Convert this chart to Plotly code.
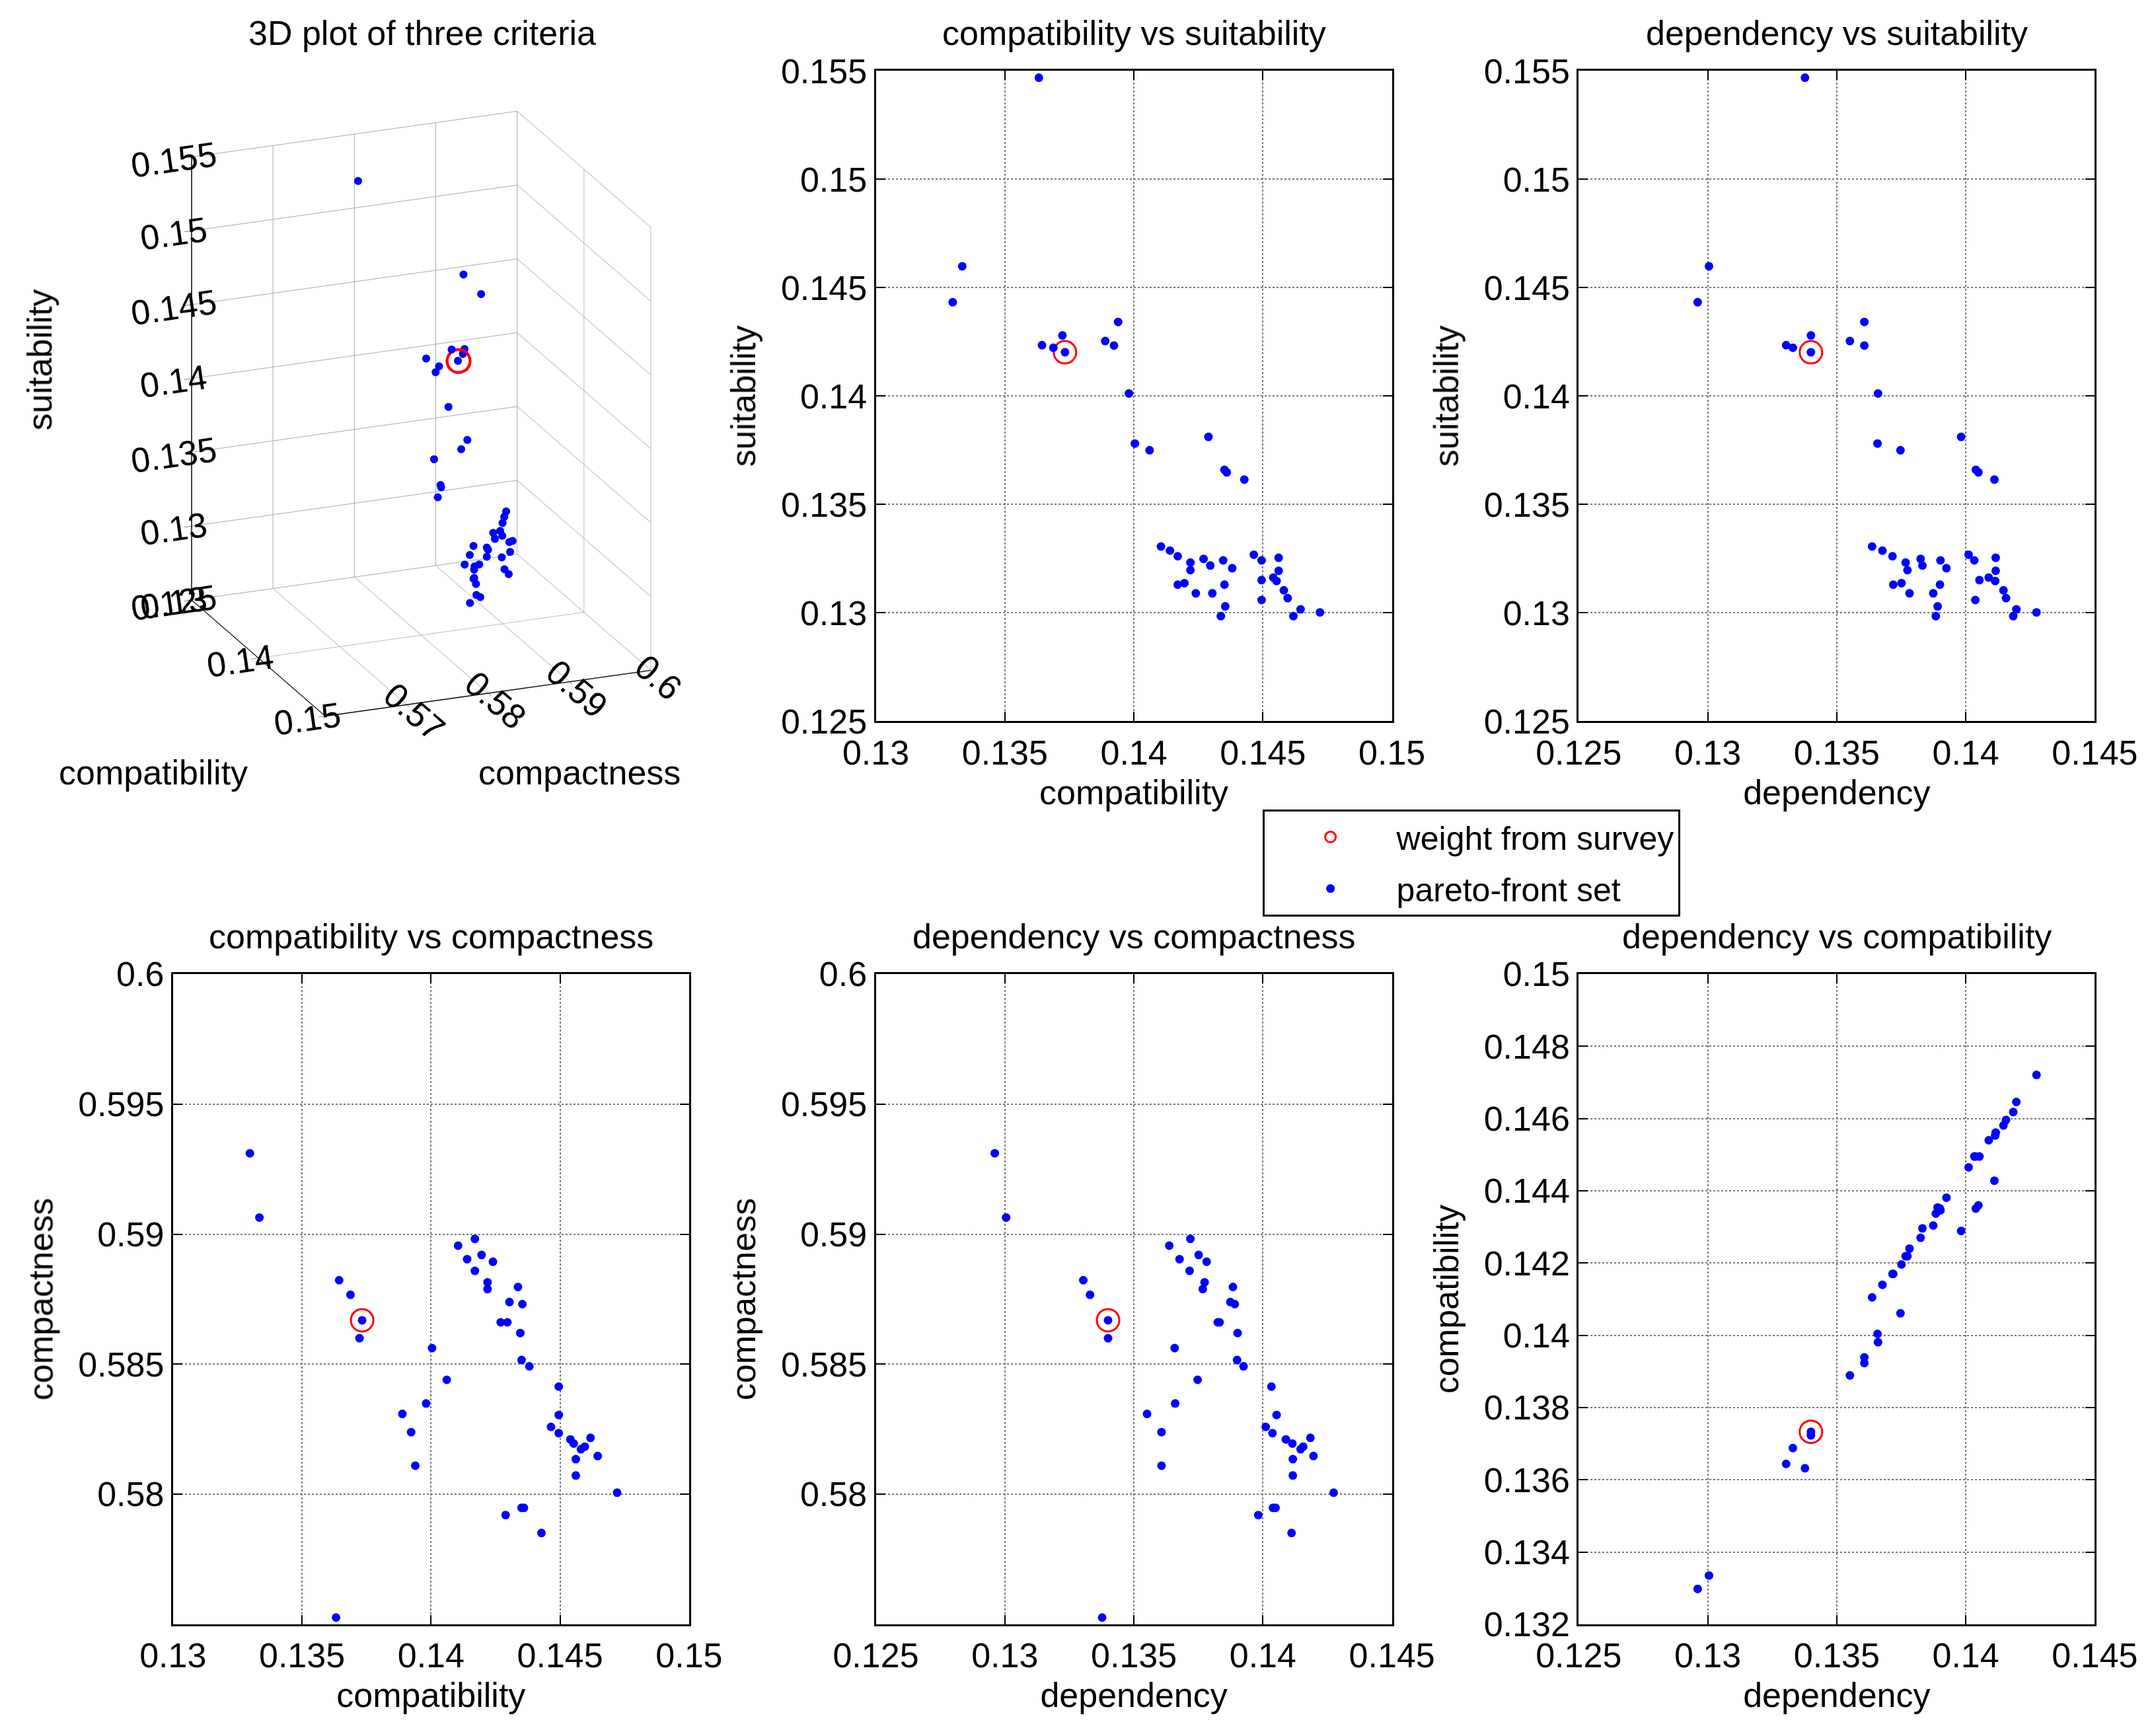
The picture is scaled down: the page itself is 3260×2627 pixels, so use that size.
import plotly.graph_objects as go

# ----------------------------
# data (pareto-front set, 46 points)
# ----------------------------
compatibility = [0.13632, 0.13335, 0.13298, 0.13644, 0.13688, 0.13723, 0.13733, 0.13889, 0.13923, 0.13939,
                 0.13981, 0.14004, 0.14061, 0.14289, 0.14351, 0.14360, 0.14428, 0.14105, 0.14140, 0.14170,
                 0.14219, 0.14219, 0.14270, 0.14296, 0.14346, 0.14381, 0.14170, 0.14196, 0.14240, 0.14304,
                 0.14351, 0.14354, 0.14337, 0.14465, 0.14495, 0.14561, 0.14561, 0.14495, 0.14540, 0.14553,
                 0.14581, 0.14596, 0.14495, 0.14618, 0.14646, 0.14721]
dependency = [0.13377, 0.13005, 0.12961, 0.13304, 0.13330, 0.13400, 0.13400, 0.13551, 0.13607, 0.13607,
              0.13660, 0.13658, 0.13747, 0.13982, 0.14039, 0.14049, 0.14111, 0.13637, 0.13677, 0.13716,
              0.13767, 0.13774, 0.13825, 0.13832, 0.13902, 0.13925, 0.13719, 0.13751, 0.13782, 0.13874,
              0.13900, 0.13891, 0.13884, 0.14011, 0.14033, 0.14116, 0.14116, 0.14053, 0.14089, 0.14114,
              0.14146, 0.14156, 0.14037, 0.14184, 0.14196, 0.14274]
suitability = [0.15469, 0.14599, 0.14433, 0.14235, 0.14223, 0.14280, 0.14202, 0.14254, 0.14233, 0.14342,
               0.14012, 0.13781, 0.13750, 0.13812, 0.13660, 0.13648, 0.13615, 0.13306, 0.13287, 0.13261,
               0.13232, 0.13197, 0.13249, 0.13218, 0.13242, 0.13206, 0.13130, 0.13137, 0.13090, 0.13090,
               0.13130, 0.13030, 0.12985, 0.13268, 0.13242, 0.13254, 0.13194, 0.13151, 0.13163, 0.13147,
               0.13104, 0.13068, 0.13059, 0.12985, 0.13016, 0.13002]
compactness = [0.57526, 0.59064, 0.59311, 0.58823, 0.58767, 0.58600, 0.58669, 0.58309, 0.58239, 0.58110,
               0.58349, 0.58562, 0.58440, 0.57920, 0.57948, 0.57948, 0.57851, 0.58956, 0.58904, 0.58859,
               0.58789, 0.58815, 0.58661, 0.58661, 0.58620, 0.58492, 0.58982, 0.58920, 0.58894, 0.58739,
               0.58516, 0.58731, 0.58797, 0.58259, 0.58414, 0.58135, 0.58072, 0.58305, 0.58211, 0.58195,
               0.58173, 0.58183, 0.58235, 0.58217, 0.58147, 0.58006]

# weight from survey
survey_compatibility = [0.13733]
survey_dependency = [0.13400]
survey_suitability = [0.14202]
survey_compactness = [0.58669]

# tick labels
compat_ticks = [0.13, 0.135, 0.14, 0.145, 0.15]
compat_labels = ["0.13", "0.135", "0.14", "0.145", "0.15"]
dep_ticks = [0.125, 0.13, 0.135, 0.14, 0.145]
dep_labels = ["0.125", "0.13", "0.135", "0.14", "0.145"]
suit_ticks = [0.125, 0.13, 0.135, 0.14, 0.145, 0.15, 0.155]
suit_labels = ["0.125", "0.13", "0.135", "0.14", "0.145", "0.15", "0.155"]
compact_ticks = [0.58, 0.585, 0.59, 0.595, 0.6]
compact_labels = ["0.58", "0.585", "0.59", "0.595", "0.6"]
compat2_ticks = [0.132, 0.134, 0.136, 0.138, 0.14, 0.142, 0.144, 0.146, 0.148, 0.15]
compat2_labels = ["0.132", "0.134", "0.136", "0.138", "0.14", "0.142", "0.144", "0.146", "0.148", "0.15"]
compat3d_ticks = [0.13, 0.14, 0.15]
compat3d_labels = ["0.13", "0.14", "0.15"]
compact3d_ticks = [0.57, 0.58, 0.59, 0.6]
compact3d_labels = ["0.57", "0.58", "0.59", "0.6"]

FONT = "Liberation Sans, Arial, Helvetica, sans-serif"
FS = 52
BLUE = "#0000ff"
RED = "#ff0000"

W, H = 3260, 2627
cols = [(255, 1040), (1324, 2109), (2393, 3178)]
rows = [(100, 1090), (1475, 2465)]


def xdom(c):
    return [cols[c][0] / W, cols[c][1] / W]


def ydom(r):
    return [1 - rows[r][1] / H, 1 - rows[r][0] / H]


fig = go.Figure()

# ----------------------------
# 2D panels
# ----------------------------
panels = [
    # x, y, sx, sy, xrange, yrange, xticks, xlabels, yticks, ylabels, xtitle, ytitle, title, col, row
    (compatibility, suitability, survey_compatibility, survey_suitability, [0.13, 0.15], [0.125, 0.155],
     compat_ticks, compat_labels, suit_ticks, suit_labels, "compatibility", "suitability",
     "compatibility vs suitability", 1, 0),
    (dependency, suitability, survey_dependency, survey_suitability, [0.125, 0.145], [0.125, 0.155],
     dep_ticks, dep_labels, suit_ticks, suit_labels, "dependency", "suitability",
     "dependency vs suitability", 2, 0),
    (compatibility, compactness, survey_compatibility, survey_compactness, [0.13, 0.15], [0.575, 0.6],
     compat_ticks, compat_labels, compact_ticks, compact_labels, "compatibility", "compactness",
     "compatibility vs compactness", 0, 1),
    (dependency, compactness, survey_dependency, survey_compactness, [0.125, 0.145], [0.575, 0.6],
     dep_ticks, dep_labels, compact_ticks, compact_labels, "dependency", "compactness",
     "dependency vs compactness", 1, 1),
    (dependency, compatibility, survey_dependency, survey_compatibility, [0.125, 0.145], [0.132, 0.15],
     dep_ticks, dep_labels, compat2_ticks, compat2_labels, "dependency", "compatibility",
     "dependency vs compatibility", 2, 1),
]

axis_style = dict(
    showline=True, linecolor="black", linewidth=3, mirror="ticks",
    ticks="inside", ticklen=14, tickwidth=2, tickcolor="black",
    showgrid=True, gridcolor="#777777", gridwidth=2, griddash="dot",
    zeroline=False, automargin=False,
    tickfont=dict(family=FONT, size=FS, color="black"),
)

annotations = []
for i, (xs, ys, sx, sy, xr, yr, xt, xl, yt, yl, xtitle, ytitle, title, c, r) in enumerate(panels):
    n = i + 1
    xa = "x" if n == 1 else f"x{n}"
    ya = "y" if n == 1 else f"y{n}"
    fig.add_trace(go.Scatter(
        x=sx, y=sy, xaxis=xa, yaxis=ya, mode="markers",
        marker=dict(symbol="circle-open", size=34, color=RED, line=dict(width=3, color=RED)),
        name="weight from survey", showlegend=(n == 1), legendgroup="survey"
    ))
    fig.add_trace(go.Scatter(
        x=xs, y=ys, xaxis=xa, yaxis=ya, mode="markers",
        marker=dict(symbol="circle", size=13, color=BLUE),
        name="pareto-front set", showlegend=(n == 1), legendgroup="pareto"
    ))
    xkey = "xaxis" if n == 1 else f"xaxis{n}"
    ykey = "yaxis" if n == 1 else f"yaxis{n}"
    fig.update_layout({
        xkey: dict(axis_style, domain=xdom(c), range=xr, tickvals=xt, ticktext=xl, anchor=ya,
                   title=dict(text=xtitle, font=dict(family=FONT, size=FS, color="black"), standoff=14)),
        ykey: dict(axis_style, domain=ydom(r), range=yr, tickvals=yt, ticktext=yl, anchor=xa,
                   title=dict(text=ytitle, font=dict(family=FONT, size=FS, color="black"), standoff=22)),
    })
    annotations.append(dict(
        text=title, xref="paper", yref="paper", x=sum(xdom(c)) / 2, y=ydom(r)[1],
        xanchor="center", yanchor="bottom", yshift=26, showarrow=False,
        font=dict(family=FONT, size=FS, color="black")
    ))

# ----------------------------
# 3D panel
# ----------------------------
fig.add_trace(go.Scatter3d(
    x=survey_compatibility, y=survey_compactness, z=survey_suitability, mode="markers",
    marker=dict(symbol="circle-open", size=22, color=RED, line=dict(width=3, color=RED)),
    name="weight from survey", showlegend=False, scene="scene"
))
fig.add_trace(go.Scatter3d(
    x=compatibility, y=compactness, z=suitability, mode="markers",
    marker=dict(symbol="circle", size=7, color=BLUE, line=dict(width=0)),
    name="pareto-front set", showlegend=False, scene="scene"
))

FS3 = 25
axis3d = dict(
    showbackground=False, showgrid=True, gridcolor="#aaaaaa", gridwidth=2,
    showline=True, linecolor="black", linewidth=3, zeroline=False, showspikes=False,
    ticks="outside", tickcolor="black", ticklen=12,
    tickfont=dict(family=FONT, size=FS3, color="black"),
    title=dict(text=""),
)
annotations.append(dict(
    text="3D plot of three criteria", xref="paper", yref="paper", x=sum(xdom(0)) / 2 - 0.004,
    y=ydom(0)[1], xanchor="center", yanchor="bottom", yshift=26, showarrow=False,
    font=dict(family=FONT, size=FS, color="black")
))
# 3D axis labels, placed like the original
for txt, px, py, ang in [("suitability", 52, 540, -90), ("compatibility", 225, 1168, 0),
                         ("compactness", 873, 1168, 0)]:
    annotations.append(dict(
        text=txt, xref="paper", yref="paper", x=px / W, y=1 - py / H,
        xanchor="center", yanchor="middle", textangle=ang, showarrow=False,
        font=dict(family=FONT, size=FS, color="black")
    ))

k = 1.62
fig.update_layout(
    scene=dict(
        domain=dict(x=[0.029, 0.359], y=[0.556, 0.971]),
        xaxis=dict(axis3d, range=[0.13, 0.15], tickvals=compat3d_ticks, ticktext=compat3d_labels),
        yaxis=dict(axis3d, range=[0.56, 0.6], tickvals=compact3d_ticks, ticktext=compact3d_labels),
        zaxis=dict(axis3d, range=[0.125, 0.155], tickvals=suit_ticks, ticktext=suit_labels),
        aspectmode="manual", aspectratio=dict(x=1, y=0.98, z=1.32),
        camera=dict(eye=dict(x=0.87 * k, y=-0.35 * k, z=0.35 * k), up=dict(x=0, y=0, z=1),
                    center=dict(x=0, y=0, z=0), projection=dict(type="orthographic")),
        bgcolor="white",
    ),
    annotations=annotations,
    legend=dict(
        x=1912 / W, y=1 - 1224 / H, xanchor="left", yanchor="top",
        bordercolor="black", borderwidth=3, bgcolor="white",
        font=dict(family=FONT, size=50, color="black"),
        itemsizing="trace", itemwidth=190,
    ),
    margin=dict(l=0, r=0, t=0, b=0),
    paper_bgcolor="white", plot_bgcolor="white",
    font=dict(family=FONT, size=FS, color="black"),
)

fig.write_html("out.html")
